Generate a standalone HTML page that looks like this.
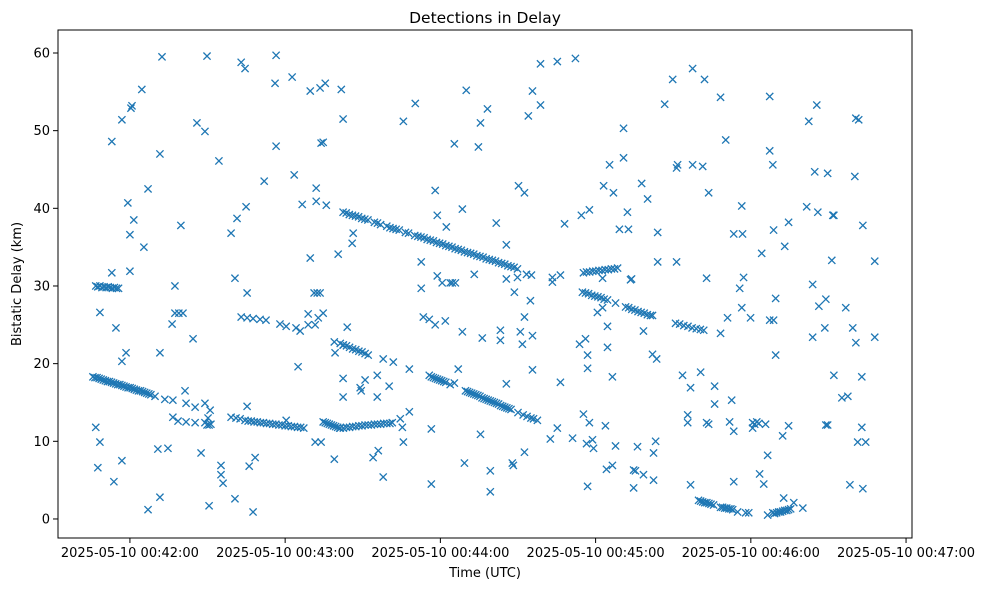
<!DOCTYPE html>
<html>
<head>
<meta charset="utf-8">
<style>
  html, body { margin: 0; padding: 0; background: #ffffff; }
  body { width: 989px; height: 590px; overflow: hidden; font-family: "Liberation Sans", "DejaVu Sans", sans-serif; }
  svg text { font-family: "DejaVu Sans", "Liberation Sans", sans-serif; fill: #000; }
</style>
</head>
<body>
<svg id="chart" width="989" height="590" viewBox="0 0 989 590" xmlns="http://www.w3.org/2000/svg">
  <rect x="0" y="0" width="989" height="590" fill="#ffffff"></rect>
  <text x="485" y="23" text-anchor="middle" font-size="15.5">Detections in Delay</text>
  <text x="485" y="577" text-anchor="middle" font-size="13">Time (UTC)</text>
  <text x="0" y="0" transform="translate(21,284) rotate(-90)" text-anchor="middle" font-size="13">Bistatic Delay (km)</text>
  <g id="marks"></g>
  <g id="axes"></g>
</svg>
<script>
// ---- data: time in seconds after 2025-05-10 00:42:00, delay in km ----
const xTickSeconds = [0, 60, 120, 180, 240, 300];
const xTickLabels = ["2025-05-10 00:42:00","2025-05-10 00:43:00","2025-05-10 00:44:00","2025-05-10 00:45:00","2025-05-10 00:46:00","2025-05-10 00:47:00"];
const yTickValues = [0, 10, 20, 30, 40, 50, 60];
const yTickLabels = ["0","10","20","30","40","50","60"];

const trackA = [[-14.3,18.3],[-13.5,18.2],[-12.7,18.2],[-11.9,18.1],[-11.1,18.0],[-10.3,17.9],[-9.5,17.8],[-8.7,17.7],[-7.9,17.7],[-7.1,17.6],[-6.3,17.5],[-5.5,17.4],[-4.7,17.3],[-3.9,17.3],[-3.1,17.2],[-2.3,17.1],[-1.5,17.0],[-0.7,16.9],[0.1,16.9],[0.9,16.8],[1.7,16.7],[2.5,16.6],[3.3,16.5],[4.1,16.5],[4.9,16.4],[5.7,16.3],[6.5,16.2],[7.3,16.1],[8.1,16.0],[9.7,15.8],[13.5,15.4],[16.6,15.3]];
const trackA2 = [[45.7,12.6],[46.9,12.6],[48.0,12.5],[49.2,12.5],[50.4,12.4],[51.6,12.4],[52.8,12.3],[54.0,12.3],[55.2,12.2],[56.4,12.2],[57.6,12.1],[58.8,12.1],[60.0,12.0],[61.2,12.0],[62.4,11.9],[63.6,11.9],[64.8,11.8],[66.0,11.8],[67.2,11.7]];
const trackA3 = [[74.7,12.5],[75.5,12.4],[76.3,12.3],[77.1,12.2],[77.9,12.1],[78.7,12.0],[79.5,11.9],[80.3,11.8],[81.1,11.7],[81.3,11.7],[82.5,11.7],[83.7,11.8],[84.9,11.8],[86.1,11.9],[87.3,11.9],[88.5,12.0],[89.7,12.0],[90.9,12.1],[92.1,12.1],[93.3,12.1],[94.5,12.2],[95.7,12.2],[96.9,12.2],[98.1,12.3],[99.3,12.3],[100.5,12.3],[101.4,12.4]];
const trackB = [[82.4,39.5],[83.6,39.4],[84.8,39.2],[86.0,39.1],[87.2,39.0],[88.4,38.9],[89.6,38.7],[90.8,38.6],[92.0,38.5],[94.5,38.2],[95.7,38.1],[96.9,37.9],[99.3,37.7],[100.5,37.5],[101.7,37.4],[102.9,37.3],[104.1,37.2],[106.5,36.9],[107.7,36.8],[110.1,36.5],[111.3,36.4],[112.5,36.3],[113.7,36.2],[114.9,36.0],[116.1,35.9],[117.3,35.8],[118.5,35.6],[119.7,35.5],[120.9,35.4],[122.1,35.2],[123.3,35.1],[124.5,35.0],[125.7,34.8],[126.9,34.7],[128.1,34.6],[129.3,34.4],[130.5,34.3],[131.7,34.2],[132.9,34.1],[134.1,33.9],[135.3,33.8],[136.5,33.7],[137.7,33.5],[138.9,33.4],[140.1,33.3],[141.3,33.2],[142.5,33.0],[143.7,32.9],[144.9,32.8],[146.1,32.6],[147.3,32.5],[148.5,32.4],[149.8,32.2]];
const trackB2 = [[81.3,22.6],[82.5,22.4],[83.7,22.3],[84.9,22.1],[86.1,21.9],[87.3,21.8],[88.5,21.6],[89.7,21.5],[90.9,21.3],[92.1,21.1]];
const trackC = [[115.7,18.5],[116.5,18.3],[117.3,18.2],[118.1,18.1],[118.9,18.0],[119.7,17.9],[120.5,17.8],[121.3,17.7],[122.1,17.6],[123.8,17.3],[129.7,16.5],[130.5,16.4],[131.3,16.3],[132.1,16.2],[132.9,16.1],[133.7,16.0],[134.5,15.9],[135.3,15.8],[136.1,15.6],[136.9,15.5],[137.7,15.4],[138.5,15.3],[139.3,15.2],[140.1,15.1],[140.9,15.0],[141.7,14.9],[142.5,14.8],[143.3,14.6],[144.1,14.5],[144.9,14.4],[145.7,14.3],[146.5,14.2],[147.3,14.1],[150.0,13.7],[152.0,13.4],[153.5,13.2],[155.0,13.0],[156.0,12.9],[157.5,12.7]];
const trackD = [[175.3,31.7],[176.5,31.8],[177.7,31.8],[178.9,31.9],[180.1,31.9],[181.3,32.0],[182.5,32.0],[183.7,32.1],[184.9,32.1],[186.1,32.2],[187.3,32.2],[188.5,32.3],[174.9,29.2],[176.1,29.1],[177.3,29.0],[178.5,28.8],[179.7,28.7],[180.9,28.6],[182.1,28.5],[183.3,28.3],[184.6,28.2]];
const trackE = [[191.6,27.3],[192.8,27.2],[194.0,27.0],[195.2,26.9],[196.4,26.7],[197.6,26.6],[198.8,26.5],[200.0,26.3],[201.2,26.2],[202.0,26.2],[210.9,25.2],[212.5,25.1],[214.1,24.9],[215.7,24.8],[217.3,24.6],[218.9,24.5],[220.5,24.4],[221.8,24.3]];
const trackF = [[219.8,2.4],[220.6,2.3],[221.4,2.2],[222.2,2.1],[223.0,2.1],[223.8,2.0],[224.6,1.9],[225.6,1.8],[228.3,1.5],[229.1,1.5],[229.9,1.4],[230.7,1.4],[231.5,1.3],[232.3,1.3],[233.0,1.2],[234.9,0.9],[238.0,0.8],[239.2,0.8],[246.5,0.5],[248.5,0.8],[249.2,0.7],[250.0,0.8],[250.8,0.9],[251.5,0.9],[252.3,1.0],[253.1,1.1],[253.9,1.1],[254.6,1.2],[255.4,1.3]];
const trackG = [[-13.2,30.0],[-12.4,29.9],[-11.6,30.0],[-10.8,29.8],[-10.0,29.9],[-9.2,29.8],[-8.4,29.9],[-7.6,29.8],[-6.8,29.7],[-6.0,29.8],[-5.2,29.7],[-4.4,29.7],[43.0,26.0],[45.3,25.9],[47.6,25.8],[50.3,25.7],[52.6,25.6],[58.0,25.1],[60.4,24.8],[64.2,24.6],[65.8,24.2]];
const scatterLeft = [[-13.2,11.8],[-11.6,9.9],[-12.4,6.6],[-6.2,4.8],[-3.1,7.5],[-11.6,26.6],[-5.4,24.6],[-1.5,21.4],[-3.1,20.3],[-7.0,31.7],[0,31.9],[-7.0,48.6],[-3.1,51.4],[0.4,52.9],[0.8,53.2],[4.6,55.3],[-0.8,40.7],[1.5,38.5],[0,36.6],[5.4,35.0],[7.0,42.5],[12.4,59.5],[11.6,47.0],[11.6,21.4],[7.0,1.2],[11.6,2.8],[10.8,9.0],[14.7,9.1],[17.4,30.0],[19.7,37.8],[16.3,25.1],[17.4,26.5],[18.9,26.5],[20.5,26.5],[24.4,23.2],[25.9,51.0],[29.0,49.9],[29.8,59.6],[34.4,46.1],[30.6,1.7],[27.5,8.5],[35.2,6.9],[35.2,5.7],[36.0,4.6],[40.6,2.6],[39.1,36.8],[41.4,38.7],[44.9,40.2],[43.0,58.8],[44.5,58.0],[40.6,31.0],[45.3,29.1],[47.6,0.9],[46.1,6.8],[48.4,7.9],[45.3,14.5],[51.9,43.5],[56.5,48.0],[56.1,56.1],[56.5,59.7],[62.7,56.9],[63.5,44.3],[66.6,40.5],[65.0,19.6],[60.4,12.7]];
const scatterLeft2 = [[21.3,16.5],[21.7,14.9],[25.2,14.4],[29.0,14.9],[31.0,14.0],[16.6,13.1],[18.6,12.6],[21.7,12.5],[25.2,12.4],[29.0,12.4],[29.8,12.1],[30.6,12.1],[31.3,12.2],[30.2,13.0],[39.1,13.1],[41.0,13.0],[42.6,12.9],[44.5,12.7]];
const scatterMid = [[69.7,55.1],[73.5,55.5],[75.5,56.1],[81.7,55.3],[82.4,51.5],[74.7,48.5],[73.9,48.4],[72.0,42.6],[72.0,40.9],[75.9,40.4],[69.7,33.6],[80.5,34.1],[71.2,29.1],[72.4,29.1],[73.5,29.1],[68.9,26.4],[74.7,26.5],[68.9,25.0],[71.6,25.0],[72.8,25.9],[79.0,22.8],[79.3,21.4],[82.4,22.4],[82.4,18.1],[82.4,15.7],[71.6,9.9],[73.9,9.9],[79.0,7.7],[104.5,12.9],[105.3,11.8],[105.7,9.9],[108.0,13.8],[97.9,20.6],[101.8,20.2],[108.0,19.3],[95.6,18.5],[100.2,17.1],[95.6,15.7],[89.4,16.5],[90.9,17.9],[89.0,16.9],[96.0,8.8],[94.0,7.9],[97.9,5.4],[86.3,36.8],[85.9,35.5],[84.0,24.7],[105.7,51.2],[110.3,53.5],[130.0,55.2],[138.2,52.8],[135.5,51.0],[125.4,48.3],[134.7,47.9],[158.7,58.6],[165.2,58.9],[172.2,59.3],[155.6,55.1],[154.0,51.9],[158.7,53.3],[190.8,50.3],[190.8,46.5],[185.4,45.6]];
const scatterMid2 = [[118.0,42.3],[118.8,39.1],[128.5,39.9],[122.3,37.6],[141.6,38.1],[145.5,35.3],[150.2,42.9],[152.5,42.0],[168.0,38.0],[174.5,39.1],[177.6,39.8],[183.1,42.9],[186.9,42.0],[192.3,39.5],[189.2,37.3],[192.7,37.3],[112.6,33.1],[112.6,29.7],[118.8,31.3],[120.7,30.4],[123.8,30.4],[124.6,30.4],[125.8,30.4],[133.1,31.5],[145.5,30.9],[149.8,31.1],[153.3,31.5],[155.2,31.4],[148.6,29.2],[154.8,28.1],[163.3,31.1],[166.4,31.4],[163.3,30.5],[182.7,31.0],[187.7,27.8],[193.5,30.8],[113.4,26.0],[115.7,25.7],[118.0,25.0],[121.9,25.5],[128.5,24.1],[136.2,23.3],[143.2,24.3],[143.2,23.0],[150.9,24.1],[151.7,22.5],[152.5,26.0],[155.6,23.6],[173.8,22.5],[176.1,23.2],[176.9,21.1],[176.9,19.4],[184.6,24.8],[184.6,22.1],[186.5,18.3],[180.7,26.6],[182.7,27.2]];
const scatterMid3 = [[126.9,19.3],[125.4,17.5],[145.5,17.4],[155.6,19.2],[166.4,17.6],[116.5,11.6],[135.5,10.9],[129.3,7.2],[139.3,6.2],[139.3,3.5],[147.8,7.2],[148.2,6.9],[152.5,8.6],[165.2,11.7],[162.5,10.3],[171.1,10.4],[175.3,13.5],[177.6,12.4],[176.5,9.7],[179.2,9.1],[178.8,10.2],[183.8,12.0],[187.7,9.4],[184.2,6.4],[186.5,6.9],[176.9,4.2],[116.5,4.5]];
const scatterRight = [[217.5,58.0],[209.8,56.6],[222.1,56.6],[206.7,53.4],[228.3,54.3],[247.3,54.4],[265.5,53.3],[262.4,51.2],[280.6,51.6],[281.7,51.4],[230.3,48.8],[247.3,47.4],[248.5,45.6],[197.8,43.2],[200.1,41.2],[211.7,45.6],[211.3,45.2],[217.5,45.6],[221.4,45.4],[223.7,42.0],[264.7,44.7],[269.7,44.5],[280.2,44.1],[204.0,36.9],[204.0,33.1],[211.3,33.1],[193.9,30.9],[222.9,31.0],[236.5,40.3],[233.4,36.7],[236.8,36.7],[248.8,37.2],[254.6,38.2],[253.1,35.1],[244.2,34.2],[261.6,40.2],[265.9,39.5],[271.7,39.1],[272.1,39.1],[283.3,37.8],[271.3,33.3],[287.9,33.2],[263.9,30.2],[237.2,31.1],[235.7,29.7],[249.6,28.4],[236.5,27.2],[231.0,25.9],[239.9,25.9],[247.3,25.6],[248.8,25.6],[269.0,28.3],[266.3,27.4],[276.7,27.2],[263.9,23.4],[268.6,24.6],[279.4,24.6],[280.6,22.7],[287.9,23.4],[228.3,23.9],[198.5,24.2]];
const scatterRight2 = [[202.0,21.2],[203.6,20.6],[249.6,21.1],[213.6,18.5],[220.6,18.9],[216.7,16.9],[226.0,17.1],[226.0,14.8],[232.6,15.3],[272.1,18.5],[282.9,18.3],[275.2,15.6],[277.5,15.8],[215.6,13.4],[215.6,12.4],[222.9,12.4],[223.7,12.2],[231.8,12.5],[233.4,11.3],[240.7,12.4],[241.5,12.2],[242.3,12.5],[243.1,12.3],[240.7,11.7],[245.7,12.2],[254.6,12.0],[252.3,10.7],[269.0,12.1],[269.7,12.1],[282.9,11.8],[281.3,9.9],[284.4,9.9],[196.2,9.3],[203.2,10.0],[202.4,8.5],[194.7,6.3],[195.4,6.2],[198.5,5.7],[202.4,5.0],[194.7,4.0],[216.7,4.4],[233.4,4.8],[243.4,5.8],[245.0,4.5],[246.5,8.2],[252.7,2.7],[256.6,2.1],[260.1,1.4],[278.3,4.4],[283.3,3.9]];

// ---- layout ----
const PL = 58, PR = 912, PT = 30, PB = 538;
const xMin = -27.8, xMax = 302.3;
const yMin = -2.45, yMax = 62.96;
function xScale(t) { return PL + (t - xMin) / (xMax - xMin) * (PR - PL); }
function yScale(v) { return PB - (v - yMin) / (yMax - yMin) * (PB - PT); }

const NS = "http://www.w3.org/2000/svg";
const marks = document.getElementById('marks');
const axes = document.getElementById('axes');

const allTracks = [trackA, trackA2, trackA3, trackB, trackB2, trackC, trackD, trackE, trackF, trackG,
  scatterLeft, scatterLeft2, scatterMid, scatterMid2, scatterMid3, scatterRight, scatterRight2];
const h = 3.6;
allTracks.forEach(function(track) {
  track.forEach(function(p) {
    const cx = xScale(p[0]), cy = yScale(p[1]);
    const path = document.createElementNS(NS, 'path');
    path.setAttribute('d', 'M' + (cx - h) + ' ' + (cy - h) + 'L' + (cx + h) + ' ' + (cy + h) + 'M' + (cx - h) + ' ' + (cy + h) + 'L' + (cx + h) + ' ' + (cy - h));
    path.setAttribute('stroke', '#1f77b4');
    path.setAttribute('stroke-width', '1.3');
    path.setAttribute('fill', 'none');
    
    
    marks.appendChild(path);
  });
});

// frame
const frame = document.createElementNS(NS, 'rect');
frame.setAttribute('x', PL); frame.setAttribute('y', PT);
frame.setAttribute('width', PR - PL); frame.setAttribute('height', PB - PT);
frame.setAttribute('fill', 'none'); frame.setAttribute('stroke', '#000'); frame.setAttribute('stroke-width', '1');


axes.appendChild(frame);

xTickSeconds.forEach(function(s, i) {
  const x = xScale(s);
  const tk = document.createElementNS(NS, 'line');
  tk.setAttribute('x1', x); tk.setAttribute('x2', x);
  tk.setAttribute('y1', PB); tk.setAttribute('y2', PB + 5);
  tk.setAttribute('stroke', '#000'); tk.setAttribute('stroke-width', '1');
  
  
  axes.appendChild(tk);
  const lb = document.createElementNS(NS, 'text');
  lb.setAttribute('x', x); lb.setAttribute('y', PB + 19);
  lb.setAttribute('text-anchor', 'middle'); lb.setAttribute('font-size', '13');
  lb.textContent = xTickLabels[i];
  
  
  axes.appendChild(lb);
});

yTickValues.forEach(function(v, i) {
  const y = yScale(v);
  const tk = document.createElementNS(NS, 'line');
  tk.setAttribute('x1', PL - 5); tk.setAttribute('x2', PL);
  tk.setAttribute('y1', y); tk.setAttribute('y2', y);
  tk.setAttribute('stroke', '#000'); tk.setAttribute('stroke-width', '1');
  
  
  axes.appendChild(tk);
  const lb = document.createElementNS(NS, 'text');
  lb.setAttribute('x', PL - 8); lb.setAttribute('y', y + 4.5);
  lb.setAttribute('text-anchor', 'end'); lb.setAttribute('font-size', '13');
  lb.textContent = yTickLabels[i];
  
  
  axes.appendChild(lb);
});
</script>
</body>
</html>
